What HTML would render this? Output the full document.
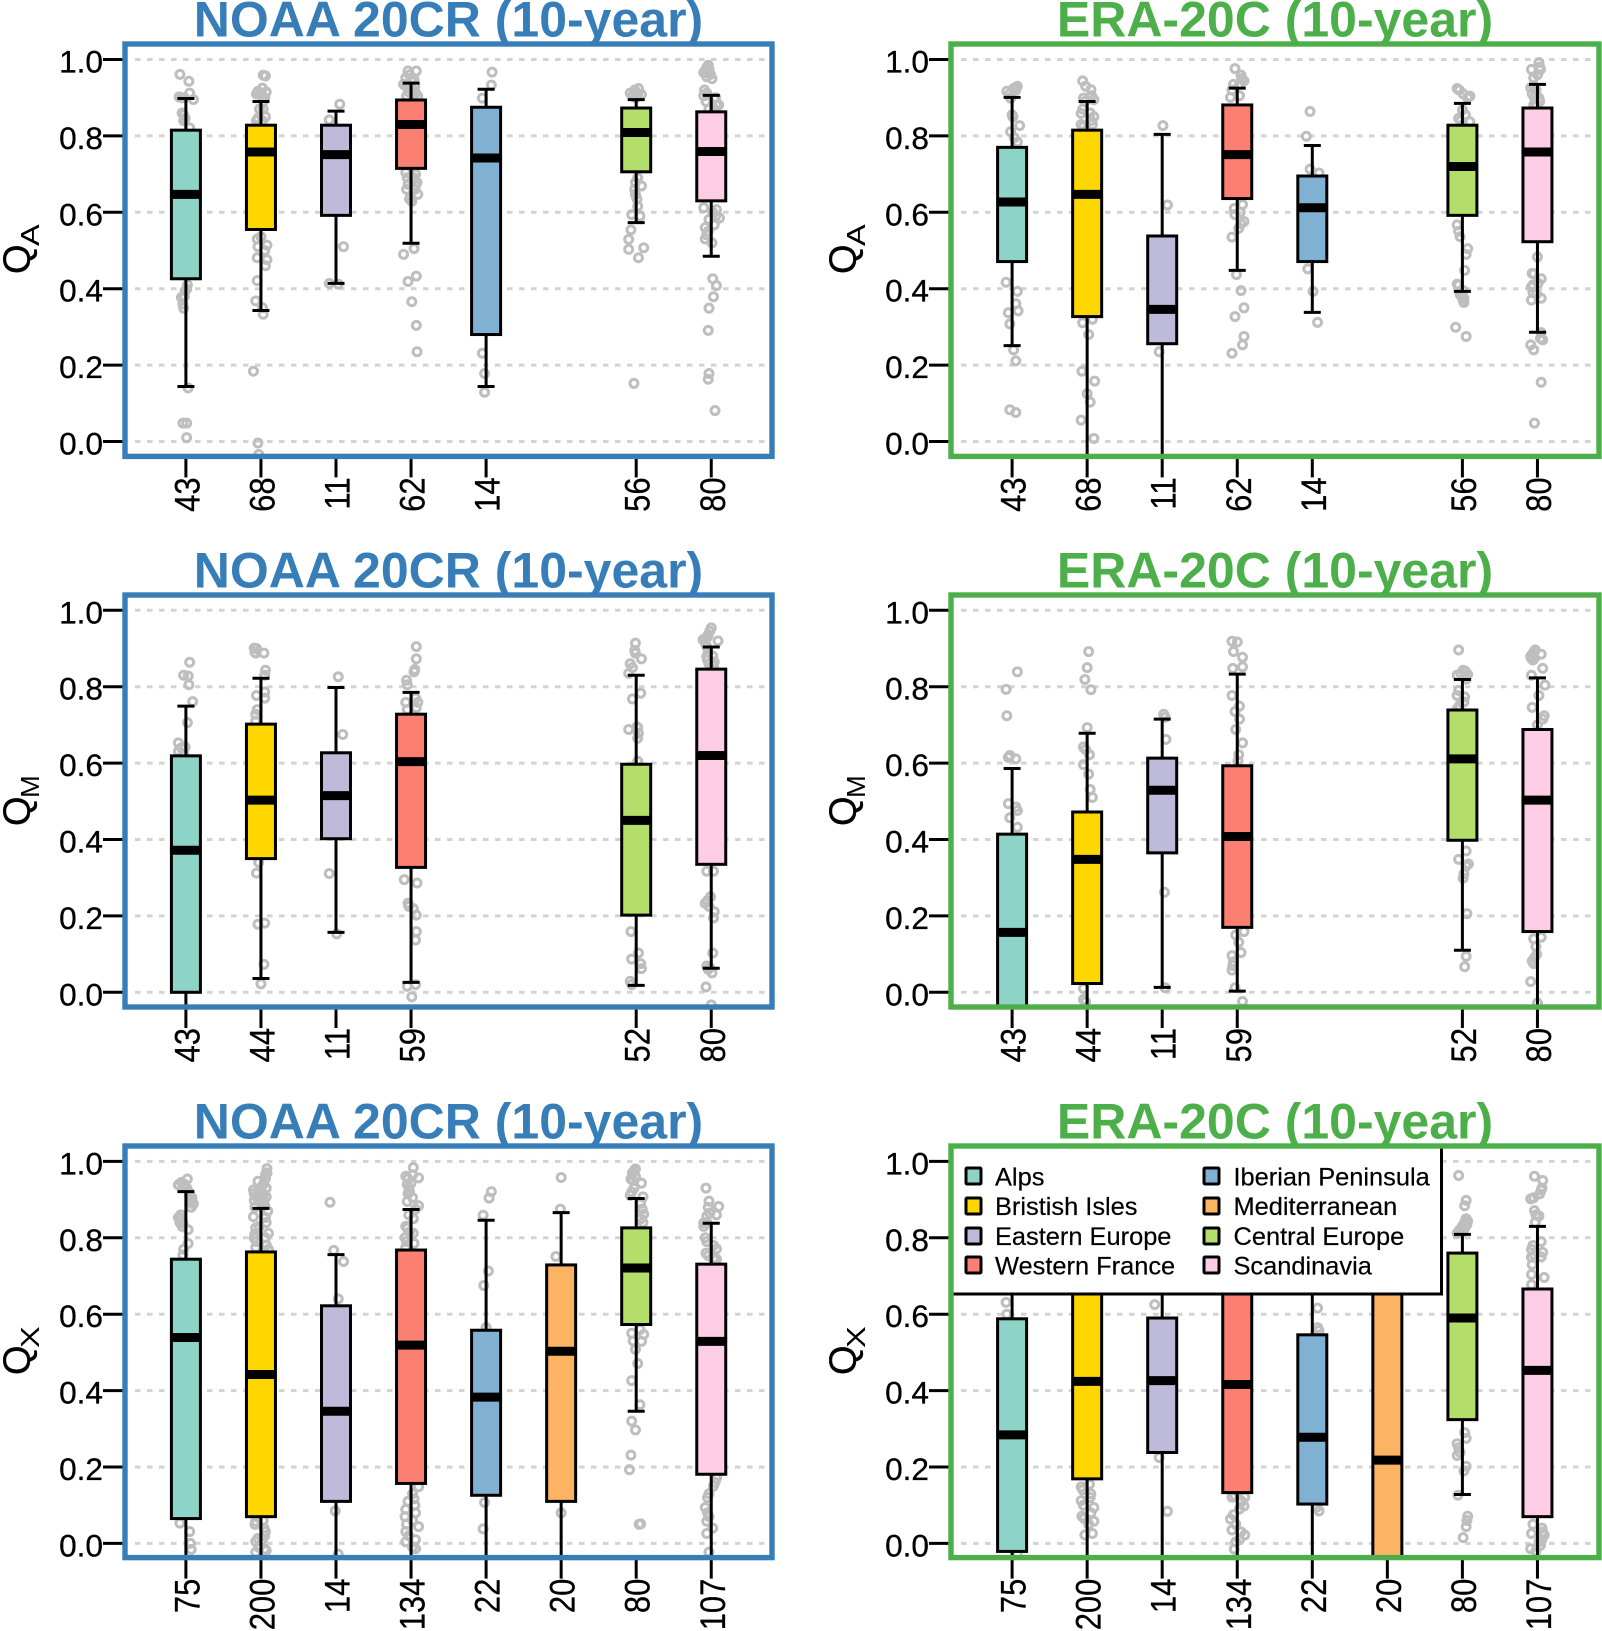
<!DOCTYPE html>
<html lang="en">
<head>
<meta charset="utf-8">
<title>Boxplots of QA, QM, QX: NOAA 20CR and ERA-20C</title>
<style>
html,body{margin:0;padding:0;background:#fff;}
svg{display:block;font-family:"Liberation Sans",sans-serif;}
.t{font-size:50px;font-weight:bold;text-anchor:middle;}
.n{fill:#377eb8;}
.e{fill:#4daf4a;}
.yt{font-size:38px;fill:#000;stroke:#000;stroke-width:.3;}
.sub{font-size:26px;fill:#000;}
.leg{font-size:25.4px;fill:#000;stroke:#000;stroke-width:.2;}
.sw{stroke:#000;stroke-width:3;}
.fr{fill:none;stroke-width:5.4;}
</style>
</head>
<body>
<svg id="chart" xmlns="http://www.w3.org/2000/svg" width="1602" height="1631" viewBox="0 0 1602 1631">
<rect width="1602" height="1631" fill="#fff"/>
<g>
<text class="t n" x="448.5" y="36.5">NOAA 20CR (10-year)</text>
<text class="t e" x="1275" y="36.5">ERA-20C (10-year)</text>
<text class="t n" x="448.5" y="587.3">NOAA 20CR (10-year)</text>
<text class="t e" x="1275" y="587.3">ERA-20C (10-year)</text>
<text class="t n" x="448.5" y="1138.3">NOAA 20CR (10-year)</text>
<text class="t e" x="1275" y="1138.3">ERA-20C (10-year)</text>
</g>
<g>
<g><text class="yt" transform="translate(29.5,274) rotate(-90)">Q</text><text class="sub" transform="translate(39,246) rotate(-90) scale(1.25,1)">A</text></g>
<g><text class="yt" transform="translate(855.5,274) rotate(-90)">Q</text><text class="sub" transform="translate(865,246) rotate(-90) scale(1.25,1)">A</text></g>
<g><text class="yt" transform="translate(29.5,826) rotate(-90)">Q</text><text class="sub" transform="translate(39,798) rotate(-90) scale(1.05,1)">M</text></g>
<g><text class="yt" transform="translate(855.5,826) rotate(-90)">Q</text><text class="sub" transform="translate(865,798) rotate(-90) scale(1.05,1)">M</text></g>
<g><text class="yt" transform="translate(29.5,1375) rotate(-90)">Q</text><text class="sub" transform="translate(39,1348) rotate(-90) scale(1.25,1)">X</text></g>
<g><text class="yt" transform="translate(855.5,1375) rotate(-90)">Q</text><text class="sub" transform="translate(865,1348) rotate(-90) scale(1.25,1)">X</text></g>
</g>
<g id="marks"></g>
<g id="legend">
<rect x="951" y="1146" width="490.5" height="148" fill="#fff" stroke="#000" stroke-width="3"/>
<g><rect class="sw" x="966" y="1168" width="15" height="16" rx="1" fill="#8dd3c7"/><text class="leg" x="995" y="1185.5">Alps</text></g>
<g><rect class="sw" x="966" y="1198" width="15" height="16" rx="1" fill="#ffd700"/><text class="leg" x="995" y="1215">Bristish Isles</text></g>
<g><rect class="sw" x="966" y="1228" width="15" height="16" rx="1" fill="#bebada"/><text class="leg" x="995" y="1245">Eastern Europe</text></g>
<g><rect class="sw" x="966" y="1257" width="15" height="16" rx="1" fill="#fb8072"/><text class="leg" x="995" y="1274.5">Western France</text></g>
<g><rect class="sw" x="1204" y="1168" width="15" height="16" rx="1" fill="#80b1d3"/><text class="leg" x="1233.5" y="1185.5">Iberian Peninsula</text></g>
<g><rect class="sw" x="1204" y="1198" width="15" height="16" rx="1" fill="#fdb462"/><text class="leg" x="1233.5" y="1215">Mediterranean</text></g>
<g><rect class="sw" x="1204" y="1228" width="15" height="16" rx="1" fill="#b3de69"/><text class="leg" x="1233.5" y="1245">Central Europe</text></g>
<g><rect class="sw" x="1204" y="1257" width="15" height="16" rx="1" fill="#fccde5"/><text class="leg" x="1233.5" y="1274.5">Scandinavia</text></g>
</g>
<g id="frames">
<rect class="fr" x="125" y="44" width="647" height="412.4" stroke="#377eb8"/>
<rect class="fr" x="951" y="44" width="648" height="412.4" stroke="#4daf4a"/>
<rect class="fr" x="125" y="595" width="647" height="412" stroke="#377eb8"/>
<rect class="fr" x="951" y="595" width="648" height="412" stroke="#4daf4a"/>
<rect class="fr" x="125" y="1146" width="647" height="411.6" stroke="#377eb8"/>
<rect class="fr" x="951" y="1146" width="648" height="411.6" stroke="#4daf4a"/>
</g>
</svg>
<script>
// Shared axis data
const yTickValues = [0, 0.2, 0.4, 0.6, 0.8, 1];
const yTickLabels = ["0.0", "0.2", "0.4", "0.6", "0.8", "1.0"];
const regionNames = ["alps", "british-isles", "eastern-europe", "western-france", "iberian-peninsula", "mediterranean", "central-europe", "scandinavia"];
const regionColors = ["#8dd3c7", "#ffd700", "#bebada", "#fb8072", "#80b1d3", "#fdb462", "#b3de69", "#fccde5"];

// NOAA 20CR, QA
const noaaQaCounts = [43, 68, 11, 62, 14, null, 56, 80];
const noaaQaLow = [0.144, 0.343, 0.414, 0.519, 0.144, null, 0.573, 0.485];
const noaaQaQ1 = [0.426, 0.555, 0.592, 0.715, 0.28, null, 0.706, 0.63];
const noaaQaMedian = [0.647, 0.758, 0.751, 0.83, 0.742, null, 0.809, 0.759];
const noaaQaQ3 = [0.815, 0.828, 0.828, 0.894, 0.875, null, 0.873, 0.863];
const noaaQaHigh = [0.898, 0.89, 0.865, 0.938, 0.922, null, 0.895, 0.906];
const noaaQaPoints = [
[[.961,-.08],[.943,.04],[.912,.05],[.902,-.09],[.895,.1],[.855,-.03],[.846,-.01],[.821,.05],[.395,-.01],[.377,-.06],[.399,.01],[.349,-.03],[.14,.03],[.048,-.04],[.048,.01],[.01,.01],[.9,-.05],[.9,-.02],[.86,-.05],[.84,-.03],[.41,.02],[.38,-.02],[.36,-.04]],
[[.959,.03],[.957,.06],[.917,-.04],[.915,.07],[.908,0],[.89,.03],[.846,-.04],[.85,.06],[.536,0],[.514,.08],[.481,-.05],[.476,.08],[.421,-.05],[.368,-.07],[.333,.03],[.184,-.1],[-.004,-.04],[-.034,-.03],[.91,-.06],[.925,.02],[.9,.05],[.87,.03],[.84,.02],[.84,-.06],[.87,-.02],[.53,-.05],[.5,.05],[.51,-.04],[.46,.06],[.35,.02]],
[[.883,.05],[.842,-.09],[.51,.1],[.414,-.09],[.412,.03]],
[[.97,-.04],[.97,.07],[.952,-.07],[.948,.04],[.935,-.1],[.926,-.04],[.913,.06],[.904,.09],[.704,-.07],[.7,.06],[.673,-.04],[.678,.08],[.647,.09],[.629,.01],[.505,.04],[.49,-.1],[.433,.07],[.419,-.04],[.366,.01],[.304,.07],[.235,.08],[.96,-.02],[.945,0],[.93,-.06],[.93,.05],[.915,-.03],[.92,.03],[.905,-.06],[.905,.04],[.69,-.05],[.69,.04],[.66,-.06],[.66,.05],[.635,-.02],[.685,.02],[.67,.06]],
[[.967,.08],[.933,.07],[.899,-.05],[.231,-.05],[.178,-.02],[.129,-.02]],
[],
[[.924,.03],[.912,-.08],[.908,.07],[.904,-.05],[.678,-.01],[.669,.07],[.647,-.01],[.616,.02],[.594,-.06],[.59,.05],[.554,-.07],[.529,-.1],[.503,-.1],[.507,.1],[.481,.03],[.152,-.03],[.92,-.02],[.91,.02],[.9,-.01],[.66,-.02],[.69,.02],[.635,.01]],
[[.979,-.06],[.975,-.03],[.966,-.1],[.961,-.01],[.95,.01],[.912,-.06],[.899,.04],[.881,.1],[.612,-.1],[.607,.07],[.581,-.03],[.585,.11],[.567,.04],[.541,-.06],[.52,.01],[.426,.02],[.408,.07],[.379,.03],[.349,-.03],[.291,-.04],[.178,-.03],[.163,-.04],[.081,.05],[.97,-.08],[.965,-.05],[.985,-.04],[.955,-.06],[.92,-.09],[.905,-.1],[.9,.06],[.89,-.07],[.88,.07],[.87,-.03],[.87,.04],[.56,-.08],[.55,-.04],[.53,-.08],[.59,.06],[.6,.02]]
];

// ERA-20C, QA
const eraQaCounts = [43, 68, 11, 62, 14, null, 56, 80];
const eraQaLow = [0.251, -0.06, -0.06, 0.448, 0.338, null, 0.393, 0.286];
const eraQaQ1 = [0.471, 0.327, 0.256, 0.636, 0.471, null, 0.592, 0.523];
const eraQaMedian = [0.627, 0.647, 0.346, 0.751, 0.612, null, 0.72, 0.758];
const eraQaQ3 = [0.77, 0.815, 0.538, 0.881, 0.695, null, 0.828, 0.873];
const eraQaHigh = [0.901, 0.89, 0.804, 0.925, 0.775, null, 0.885, 0.935];
const eraQaPoints = [
[[.93,.07],[.917,-.07],[.924,.02],[.899,-.02],[.855,0],[.827,.1],[.811,-.02],[.784,.07],[.417,-.08],[.393,.07],[.361,.05],[.337,-.05],[.342,.08],[.308,-.03],[.24,.02],[.211,.05],[.083,-.03],[.076,.05],[.92,.05],[.91,-.03],[.925,.05],[.85,.01],[.795,.03]],
[[.944,-.06],[.921,.05],[.895,.09],[.899,-.05],[.859,-.08],[.85,.09],[.824,-.05],[.311,-.06],[.32,.07],[.28,.02],[.184,-.07],[.158,.1],[.125,0],[.103,.04],[.056,-.08],[.008,.09],[.93,-.02],[.905,.06],[.89,-.03],[.87,-.06],[.86,.04],[.84,.05],[.83,-.08],[.83,.07]],
[[.827,.01],[.619,.07],[.235,-.04]],
[[.976,-.03],[.959,.05],[.944,.09],[.935,-.05],[.901,-.09],[.62,.07],[.594,-.03],[.576,.09],[.558,.02],[.535,-.07],[.437,-.01],[.395,.05],[.35,.09],[.327,-.03],[.275,.09],[.253,.07],[.231,-.07],[.95,.06],[.935,.03],[.92,-.07],[.905,.03],[.6,.04],[.61,-.04],[.57,.05]],
[[.864,-.03],[.799,-.08],[.713,-.03],[.703,.09],[.452,-.06],[.393,.01],[.312,.07]],
[],
[[.924,-.07],[.904,.1],[.868,0],[.846,-.05],[.837,.1],[.567,-.07],[.536,-.03],[.505,.07],[.49,.05],[.448,.03],[.412,-.07],[.381,-.01],[.364,.02],[.299,-.09],[.275,.05],[.92,-.04],[.91,.01],[.9,.07],[.855,.04],[.84,-.02],[.55,-.05],[.395,.01],[.385,-.03],[.375,.02],[.37,.01],[.41,-.05]],
[[.992,.02],[.974,-.08],[.974,.04],[.952,-.05],[.926,-.09],[.899,.02],[.881,-.05],[.483,0],[.439,-.05],[.426,.05],[.404,-.08],[.386,-.01],[.375,.05],[.266,.07],[.253,-.09],[.24,-.05],[.155,.05],[.048,-.04],[.98,.03],[.96,0],[.93,-.05],[.92,-.02],[.91,-.07],[.9,-.04],[.89,.03],[.88,-.01],[.44,-.07],[.41,-.06],[.39,-.06],[.37,-.08],[.415,.01],[.27,.04],[.285,.05]]
];

// NOAA 20CR, QM
const noaaQmCounts = [43, 44, 11, 59, null, null, 52, 80];
const noaaQmLow = [-0.06, 0.036, 0.157, 0.026, null, null, 0.018, 0.063];
const noaaQmQ1 = [0, 0.35, 0.402, 0.327, null, null, 0.202, 0.335];
const noaaQmMedian = [0.372, 0.503, 0.515, 0.604, null, null, 0.45, 0.62];
const noaaQmQ3 = [0.619, 0.702, 0.627, 0.728, null, null, 0.597, 0.846];
const noaaQmHigh = [0.749, 0.822, 0.798, 0.785, null, null, 0.83, 0.904];
const noaaQmPoints = [
[[.864,.05],[.83,-.03],[.828,.03],[.805,.04],[.761,.09],[.706,.02],[.653,-.1],[.642,-.01],[.631,-.1],[.64,-.06],[.625,-.03]],
[[.901,-.09],[.888,.04],[.888,-.07],[.843,.06],[.786,.05],[.777,-.06],[.728,-.07],[.312,-.06],[.178,-.04],[.181,.05],[.073,.04],[.022,0],[.89,-.08],[.9,-.06],[.83,.05],[.77,.05],[.74,-.05],[.71,-.07],[.34,-.03]],
[[.826,.03],[.675,.09],[.311,-.09],[.153,.01]],
[[.905,.07],[.873,.07],[.839,.04],[.817,-.06],[.759,-.07],[.759,.09],[.295,-.09],[.286,.08],[.233,-.04],[.219,.03],[.202,.07],[.159,.07],[.137,.06],[.016,-.05],[.02,.06],[-.012,.01],[.845,.05],[.805,-.05],[.77,.06],[.745,.07],[.74,-.05],[.225,-.03]],
[],
[],
[[.914,-.01],[.888,-.01],[.873,.07],[.85,-.05],[.835,-.1],[.768,-.05],[.783,.06],[.688,-.1],[.693,.02],[.678,.03],[.159,-.07],[.103,.03],[.087,-.06],[.062,.07],[.029,-.08],[.895,-.02],[.86,-.08],[.695,.01],[.665,.02],[.605,.02],[.075,.06],[.02,-.06]],
[[.954,0],[.936,-.04],[.923,-.11],[.92,.09],[.905,-.06],[.879,-.06],[.865,.04],[.317,-.06],[.317,.03],[.25,-.01],[.233,-.08],[.211,.04],[.103,.02],[.069,-.06],[.051,.01],[.014,-.07],[-.033,0],[.945,-.02],[.93,-.05],[.925,-.09],[.915,-.08],[.89,-.04],[.88,.02],[.87,-.05],[.86,-.03],[.855,.03],[.24,-.05],[.225,-.03],[.195,.03],[.065,-.02],[.06,-.04]]
];

// ERA-20C, QM
const eraQmCounts = [43, 44, 11, 59, null, null, 52, 80];
const eraQmLow = [-0.06, -0.06, 0.013, 0.003, null, null, 0.11, -0.06];
const eraQmQ1 = [-0.06, 0.023, 0.365, 0.17, null, null, 0.398, 0.159];
const eraQmMedian = [0.157, 0.348, 0.529, 0.408, null, null, 0.611, 0.503];
const eraQmQ3 = [0.414, 0.472, 0.613, 0.593, null, null, 0.739, 0.688];
const eraQmHigh = [0.586, 0.678, 0.715, 0.833, null, null, 0.819, 0.823];
const eraQmPoints = [
[[.839,.07],[.793,-.08],[.724,-.07],[.62,-.03],[.611,.05],[.494,-.05],[.476,.07],[.457,-.03],[.432,.07],[.615,-.05],[.485,.05]],
[[.892,.02],[.85,0],[.819,-.03],[.792,.05],[.693,0],[.642,-.05],[.622,.03],[.596,-.05],[.571,.02],[.531,.04],[.51,.07],[-.019,-.05],[.01,-.05],[-.025,-.02],[.635,-.02]],
[[.728,.02],[.662,.05],[.262,.03],[.012,.04],[.72,.04]],
[[.919,-.07],[.917,0],[.892,-.05],[.877,.07],[.852,.07],[.848,-.06],[.777,-.07],[.749,.03],[.735,-.03],[.715,.03],[.688,-.02],[.653,.07],[.622,.02],[.159,.09],[.131,.02],[.104,.05],[.096,-.07],[.058,-.07],[.012,-.03],[-.024,.07],[.605,.01],[.15,-.02],[.08,-.05],[.07,-.06]],
[],
[],
[[.896,-.05],[.843,.01],[.832,.07],[.83,-.07],[.777,-.07],[.773,.03],[.742,-.07],[.37,.05],[.348,-.05],[.336,.08],[.299,.01],[.206,.06],[.094,.05],[.067,.03],[.84,.04],[.835,-.02],[.82,.05],[.79,-.05],[.76,.02],[.75,-.04],[.33,.05],[.31,.02]],
[[.896,-.03],[.885,.05],[.874,-.08],[.879,-.09],[.848,.07],[.83,-.08],[.804,.1],[.777,.02],[.746,-.07],[.724,.09],[.144,.05],[.14,-.05],[.1,-.01],[.082,-.07],[.028,-.09],[-.028,0],[.89,-.05],[.885,-.07],[.88,-.05],[.87,-.06],[.875,-.04],[.715,.07],[.7,0],[.09,-.04],[.075,-.05],[.12,-.02]]
];

// NOAA 20CR, QX
const noaaQxCounts = [75, 200, 14, 134, 22, 20, 80, 107];
const noaaQxLow = [-0.06, -0.06, -0.06, -0.06, -0.06, -0.06, 0.346, -0.06];
const noaaQxQ1 = [0.065, 0.07, 0.11, 0.157, 0.126, 0.11, 0.573, 0.181];
const noaaQxMedian = [0.539, 0.442, 0.346, 0.519, 0.383, 0.503, 0.721, 0.529];
const noaaQxQ3 = [0.744, 0.763, 0.622, 0.768, 0.558, 0.729, 0.826, 0.731];
const noaaQxHigh = [0.921, 0.877, 0.756, 0.874, 0.846, 0.866, 0.903, 0.838];
const noaaQxPoints = [
[[.954,.02],[.939,-.1],[.934,-.03],[.911,.05],[.889,.1],[.853,-.1],[.839,-.04],[.821,.03],[.785,.03],[.755,-.04],[.053,-.08],[.031,.05],[-.016,.07],[.945,-.06],[.94,-.02],[.93,.01],[.92,.04],[.905,.08],[.895,.06],[.88,.07],[.86,-.07],[.85,-.06],[.84,-.08],[.83,-.05],[.77,-.03],[.075,-.05],[0,.06]],
[[.981,.08],[.966,.06],[.948,-.04],[.93,.07],[.916,-.09],[.911,0],[.907,.07],[.898,-.09],[.889,.01],[.853,.06],[.826,-.07],[.812,.1],[.799,-.09],[.781,.07],[.058,-.07],[.031,.06],[.013,-.04],[-.019,.07],[-.023,-.07],[.97,.08],[.955,.06],[.94,.03],[.925,-.1],[.92,-.03],[.915,.03],[.905,-.05],[.9,.03],[.895,-.01],[.885,.05],[.88,-.08],[.87,.09],[.855,-.1],[.84,.07],[.83,-.02],[.81,-.08],[.8,.06],[.79,-.06],[.775,-.07],[.77,.1],[.06,.03],[.05,-.08],[.04,.04],[.02,.05],[.01,.02],[.005,-.07],[-.01,-.03],[-.015,.05]],
[[.893,-.08],[.767,-.03],[.738,.1],[.64,.03],[.085,-.01],[-.028,.03]],
[[.984,.03],[.961,-.07],[.957,.1],[.943,0],[.916,-.04],[.884,.1],[.83,-.07],[.812,.03],[.79,-.06],[.148,.1],[.117,.04],[.089,-.07],[.08,.06],[.031,-.07],[.044,.1],[.004,-.07],[-.014,.06],[.965,.02],[.955,-.04],[.94,-.05],[.93,-.03],[.92,-.02],[.905,.02],[.895,-.05],[.875,.06],[.86,-.03],[.85,.03],[.825,-.05],[.815,-.02],[.8,-.08],[.785,.04],[.775,-.07],[.13,.02],[.11,-.04],[.1,.05],[.07,-.08],[.06,.02],[.05,-.06],[.02,-.03],[.01,.06],[-.01,.02]],
[[.921,.07],[.904,.04],[.859,-.04],[.713,.03],[.675,-.03],[.107,-.02],[.038,-.04],[.565,0]],
[[.958,0],[.875,-.01],[.751,-.07],[.08,0]],
[[.975,-.03],[.954,-.07],[.943,.07],[.911,-.08],[.907,.09],[.862,.1],[.55,-.06],[.547,.1],[.529,.07],[.508,-.01],[.471,.02],[.426,-.06],[.363,.05],[.32,-.06],[.297,-.01],[.231,-.07],[.193,-.09],[.051,.06],[.98,-.01],[.97,-.05],[.96,-.01],[.95,-.04],[.93,-.03],[.92,-.06],[.89,.06],[.875,.08],[.85,.06],[.84,.09],[.53,-.04],[.56,.05],[.05,.04]],
[[.93,-.07],[.896,-.03],[.882,.1],[.857,-.06],[.86,.07],[.839,-.1],[.79,-.06],[.771,.07],[.753,-.04],[.744,.07],[.171,.07],[.13,-.03],[.094,-.08],[.058,-.06],[.04,.02],[.026,-.06],[-.023,-.03],[.88,-.04],[.865,-.02],[.84,-.06],[.83,-.1],[.8,-.08],[.78,.03],[.76,-.07],[.745,.03],[.16,.05],[.15,.03],[.12,-.05],[.08,-.05],[.07,-.03]]
];

// ERA-20C, QX
const eraQxCounts = [75, 200, 14, 134, 22, 20, 80, 107];
const eraQxLow = [-0.06, -0.06, -0.06, -0.06, -0.06, -0.06, 0.128, -0.06];
const eraQxQ1 = [-0.021, 0.169, 0.238, 0.133, 0.103, -0.06, 0.324, 0.07];
const eraQxMedian = [0.284, 0.424, 0.426, 0.416, 0.278, 0.218, 0.59, 0.453];
const eraQxQ3 = [0.588, 0.7, 0.59, 0.72, 0.546, 0.7, 0.76, 0.666];
const eraQxHigh = [0.8, 0.85, 0.8, 0.88, 0.75, 0.85, 0.809, 0.83];
const eraQxPoints = [
[[.631,-.08],[.6,-.07],[-.028,.07]],
[[.148,-.08],[.13,.05],[.112,-.08],[.094,.09],[.071,-.07],[.058,.09],[.026,.07],[.022,-.03],[.155,.03],[.14,-.06],[.12,.04],[.1,-.05],[.08,.05],[.065,-.04],[.05,.02]],
[[.625,-.1],[.225,-.04],[.084,.07]],
[[.121,-.07],[.121,.1],[.098,.09],[.064,-.09],[.022,.1],[.035,-.07],[.004,-.02],[.125,-.03],[.11,.06],[.09,.03],[.075,-.05],[.05,-.02],[.03,.05],[.01,.03],[-.015,-.04]],
[[.616,.07],[.557,.09],[.085,.09],[.095,.06],[.565,.07]],
[],
[[.963,-.05],[.898,.05],[.884,.03],[.844,.07],[.83,0],[.812,-.07],[.261,-.07],[.275,.05],[.238,-.03],[.202,.05],[.126,-.06],[.071,.07],[.044,.05],[.015,.01],[.85,.05],[.84,.03],[.835,.06],[.825,.03],[.82,-.04],[.815,0],[.25,-.05],[.23,-.07],[.29,.03],[.19,.02],[.06,.06]],
[[.961,-.04],[.95,.07],[.925,.05],[.902,-.09],[.871,-.04],[.857,.02],[.79,.05],[.762,.07],[.749,-.08],[.704,-.08],[.696,.09],[.677,-.08],[.026,-.08],[.022,.09],[.004,.02],[-.014,-.09],[.93,.06],[.915,.03],[.905,-.05],[.86,-.02],[.84,-.03],[.78,-.06],[.77,-.08],[.755,-.04],[.75,.05],[.73,-.07],[.05,-.06],[.04,.06],[.03,.07],[.01,.06],[-.005,.04],[-.02,-.02]]
];

const SVGNS = "http://www.w3.org/2000/svg";
const marksLayer = document.getElementById("marks");
const defsEl = document.createElementNS(SVGNS, "defs");
marksLayer.appendChild(defsEl);

function make(tag, attrs, parent) {
  const el = document.createElementNS(SVGNS, tag);
  for (const k in attrs) el.setAttribute(k, attrs[k]);
  parent.appendChild(el);
  return el;
}
function xScale(col, i) { return [185.9, 1012.1][col] + i * 75.05; }
function yScale(row, v) { return [441.5, 992.3, 1543.4][row] - v * 382; }

function drawPanel(key, col, row, counts, low, q1, median, q3, high, points) {
  const left = [125, 951][col];
  const right = [772, 1599][col];
  const top = [44, 595, 1146][row];
  const bottom = [456.4, 1007, 1557.6][row];

  const group = make("g", {}, marksLayer);
  
  

  const bg = make("rect", { x: left, y: top, width: right - left, height: bottom - top, fill: "#fff" }, group);
  
  

  const clip = make("clipPath", { id: "clip-" + key }, defsEl);
  make("rect", { x: left, y: top, width: right - left, height: bottom - top }, clip);

  yTickValues.forEach(function (v, i) {
    const y = yScale(row, v);
    const grid = make("line", { x1: left + 10, x2: right - 5, y1: y, y2: y, stroke: "#d3d3d3", "stroke-width": 3, "stroke-dasharray": "5.5 6.5" }, group);
    
    
    const tick = make("line", { x1: left - 22, x2: left, y1: y, y2: y, stroke: "#000", "stroke-width": 3 }, group);
    
    
    const label = make("text", { x: left - 22, y: y + 13, "font-size": "31.6", "text-anchor": "end", fill: "#000", stroke: "#000", "stroke-width": ".3" }, group);
    label.textContent = yTickLabels[i];
    
    
  });

  const plot = make("g", { "clip-path": "url(#clip-" + key + ")" }, group);
  
  

  points.forEach(function (list, i) {
    list.forEach(function (p) {
      const dot = make("circle", { cx: xScale(col, i + p[1]), cy: yScale(row, p[0]), r: 4, fill: "none", stroke: "#bebebe", "stroke-width": 3 }, plot);
      
      
    });
  });

  counts.forEach(function (n, i) {
    if (n === null) return;
    const x = xScale(col, i);
    const color = regionColors[i];
    const region = regionNames[i];

    const whisker = make("line", { x1: x, x2: x, y1: yScale(row, high[i]), y2: yScale(row, low[i]), stroke: "#000", "stroke-width": 3 }, plot);
    
    

    const capHigh = make("line", { x1: x - 8.5, x2: x + 8.5, y1: yScale(row, high[i]), y2: yScale(row, high[i]), stroke: "#000", "stroke-width": 3 }, plot);
    
    

    const capLow = make("line", { x1: x - 8.5, x2: x + 8.5, y1: yScale(row, low[i]), y2: yScale(row, low[i]), stroke: "#000", "stroke-width": 3 }, plot);
    
    

    const box = make("rect", { x: x - 14.5, width: 29, y: yScale(row, q3[i]), height: yScale(row, q1[i]) - yScale(row, q3[i]), fill: color, stroke: "#000", "stroke-width": 3 }, plot);
    
    

    const med = make("line", { x1: x - 14.5, x2: x + 14.5, y1: yScale(row, median[i]), y2: yScale(row, median[i]), stroke: "#000", "stroke-width": 9 }, plot);
    
    

    const xTick = make("line", { x1: x, x2: x, y1: bottom, y2: bottom + 21, stroke: "#000", "stroke-width": 3 }, group);
    
    

    const xLabel = make("text", { transform: "translate(" + (x + 13.5) + "," + (bottom + 21) + ") rotate(-90) scale(1,1.13)", "font-size": "31", "text-anchor": "end", fill: "#000", stroke: "#000", "stroke-width": ".25" }, group);
    xLabel.textContent = String(n);
    
    
  });
}

drawPanel("noaa-qa", 0, 0, noaaQaCounts, noaaQaLow, noaaQaQ1, noaaQaMedian, noaaQaQ3, noaaQaHigh, noaaQaPoints);
drawPanel("era-qa", 1, 0, eraQaCounts, eraQaLow, eraQaQ1, eraQaMedian, eraQaQ3, eraQaHigh, eraQaPoints);
drawPanel("noaa-qm", 0, 1, noaaQmCounts, noaaQmLow, noaaQmQ1, noaaQmMedian, noaaQmQ3, noaaQmHigh, noaaQmPoints);
drawPanel("era-qm", 1, 1, eraQmCounts, eraQmLow, eraQmQ1, eraQmMedian, eraQmQ3, eraQmHigh, eraQmPoints);
drawPanel("noaa-qx", 0, 2, noaaQxCounts, noaaQxLow, noaaQxQ1, noaaQxMedian, noaaQxQ3, noaaQxHigh, noaaQxPoints);
drawPanel("era-qx", 1, 2, eraQxCounts, eraQxLow, eraQxQ1, eraQxMedian, eraQxQ3, eraQxHigh, eraQxPoints);
</script>
</body>
</html>
